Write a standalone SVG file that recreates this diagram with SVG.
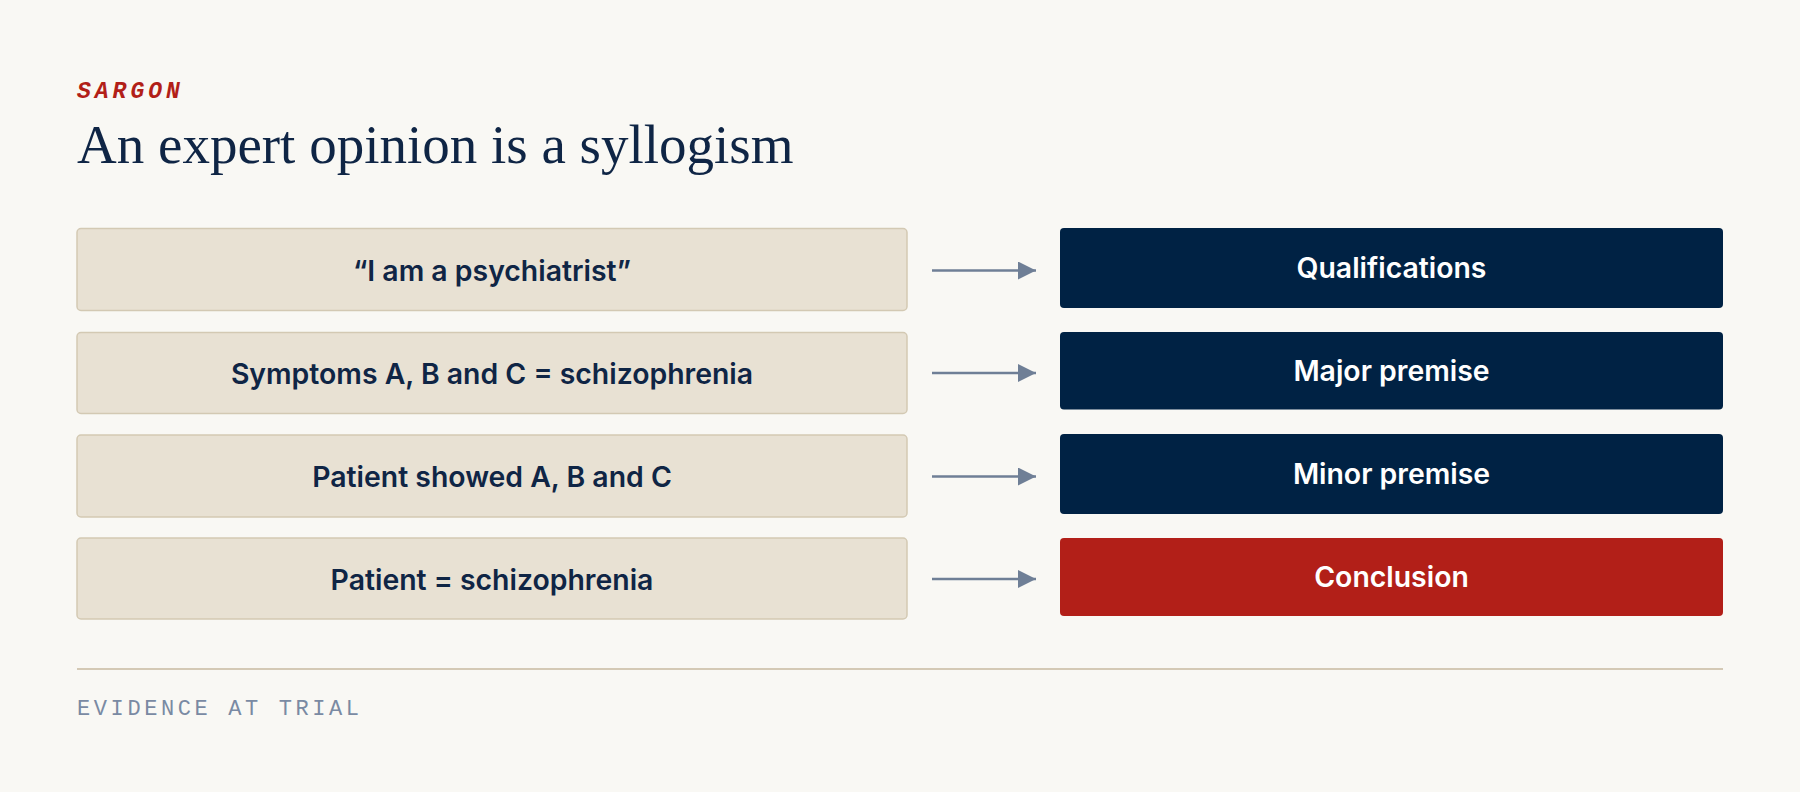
<svg xmlns="http://www.w3.org/2000/svg" width="1800" height="792" viewBox="0 0 1800 792">
<defs>
<marker id="ah" viewBox="0 0 10 10" refX="10" refY="5" markerWidth="19" markerHeight="18" markerUnits="userSpaceOnUse" orient="auto"><path d="M0,0 L10,5 L0,10 z" fill="#6f7f96"/></marker>
<style>
.src rect{fill:#e8e1d3;stroke:#d3c9b3;stroke-width:1.5}
.src text{font-family:Inter,"Noto Sans",sans-serif;font-weight:600;font-size:28.4px;fill:#0f2545;text-anchor:middle}
.dst text{font-family:Inter,"Noto Sans",sans-serif;font-weight:600;font-size:28.4px;fill:#ffffff;text-anchor:middle}
.navy{fill:#002244}
.red{fill:#b21f18}
.conn line{stroke:#6f7f96;stroke-width:2.5;marker-end:url(#ah)}
</style>
</defs>
<rect width="1800" height="792" fill="#f9f8f4"/>
<text x="77" y="97.5" font-family="Liberation Mono,monospace" font-weight="bold" font-style="italic" font-size="23" letter-spacing="4" fill="#b21f18">SARGON</text>
<text x="77" y="163" font-family="Liberation Serif,serif" font-size="55" fill="#0f2545">An expert opinion is a syllogism</text>
<g id="n1" class="src"><rect x="77" y="228.5" width="830" height="82" rx="4"/><text x="492" y="280.5">“I am a psychiatrist”</text></g>
<g id="n2" class="src"><rect x="77" y="332.5" width="830" height="81" rx="4"/><text x="492" y="384">Symptoms A, B and C = schizophrenia</text></g>
<g id="n3" class="src"><rect x="77" y="435" width="830" height="82" rx="4"/><text x="492" y="486.5">Patient showed A, B and C</text></g>
<g id="n4" class="src"><rect x="77" y="538" width="830" height="81" rx="4"/><text x="492" y="589.5">Patient = schizophrenia</text></g>
<g id="m1" class="dst"><rect class="navy" x="1060" y="228" width="663" height="80" rx="4"/><text x="1391.5" y="278">Qualifications</text></g>
<g id="m2" class="dst"><rect class="navy" x="1060" y="332" width="663" height="77.5" rx="4"/><text x="1391.5" y="381">Major premise</text></g>
<g id="m3" class="dst"><rect class="navy" x="1060" y="434" width="663" height="80" rx="4"/><text x="1391.5" y="484">Minor premise</text></g>
<g id="m4" class="dst"><rect class="red" x="1060" y="538" width="663" height="78" rx="4"/><text x="1391.5" y="587">Conclusion</text></g>
<g id="connectors" class="conn">
<line x1="932" y1="270.5" x2="1036" y2="270.5"/>
<line x1="932" y1="373" x2="1036" y2="373"/>
<line x1="932" y1="476.5" x2="1036" y2="476.5"/>
<line x1="932" y1="579" x2="1036" y2="579"/>
</g>
<line x1="77" y1="669" x2="1723" y2="669" stroke="#d4c9b5" stroke-width="2"/>
<text x="77" y="714.5" font-family="Liberation Mono,monospace" font-size="22" letter-spacing="3.6" fill="#7a8aa3">EVIDENCE AT TRIAL</text>
</svg>
